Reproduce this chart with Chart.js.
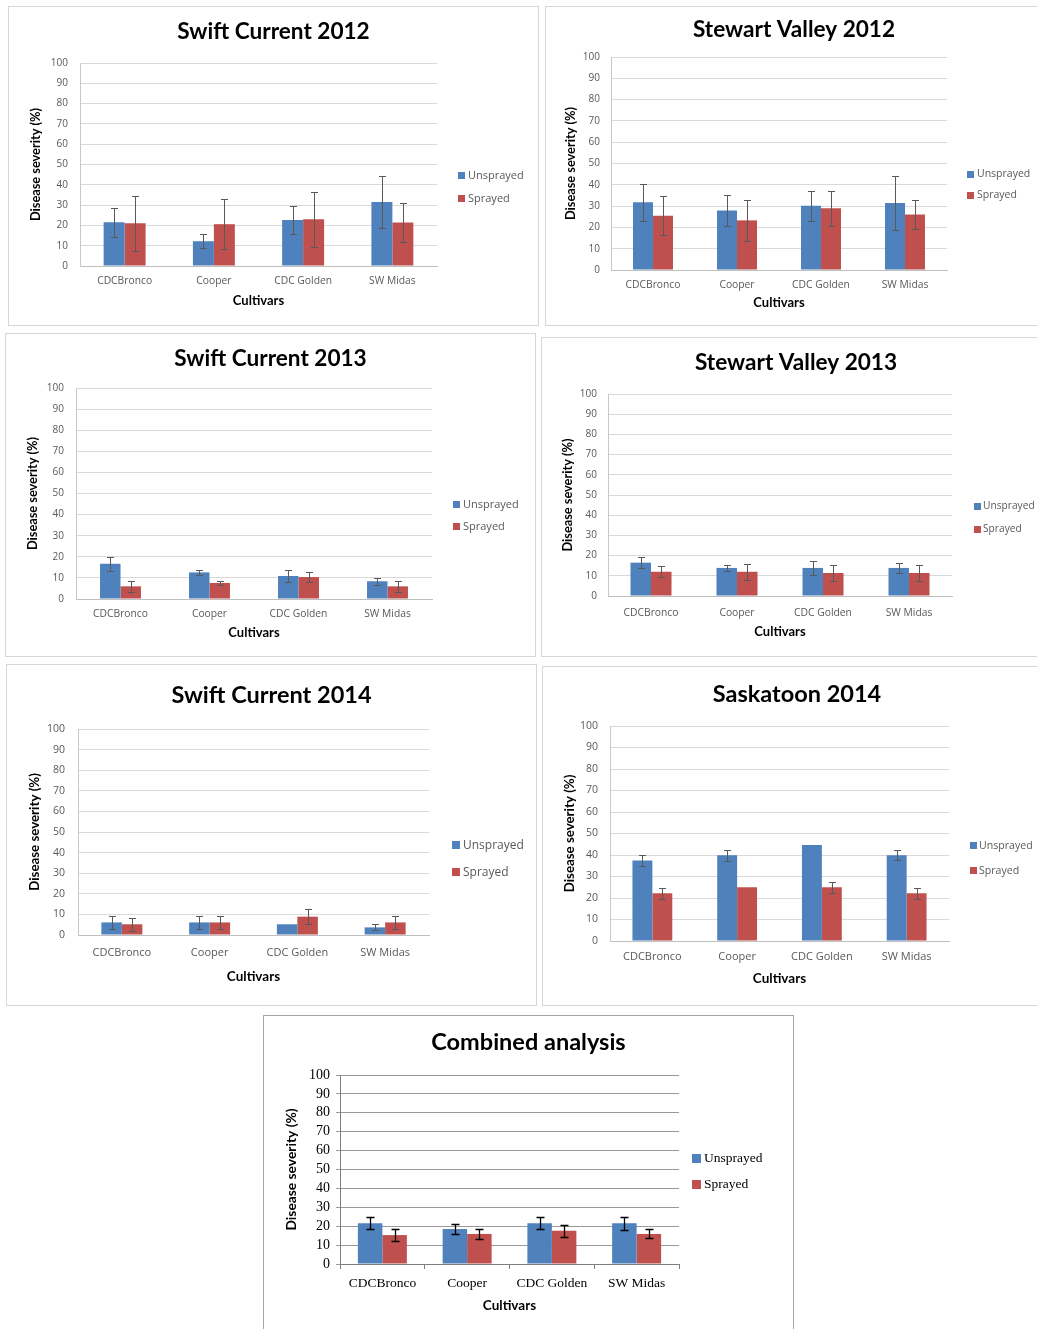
<!DOCTYPE html>
<html>
<head>
<meta charset="utf-8">
<script src="https://cdn.jsdelivr.net/npm/chart.js@4.4.0/dist/chart.umd.min.js"></script>
<style>
  html, body { margin: 0; padding: 0; background: #fff; }
  body { width: 1037px; height: 1329px; overflow: hidden; position: relative; }
  .panel { position: absolute; border: 1px solid #d6d6d6; background: #fff; }
  .panel canvas { display: block; }
  #p7 { border-color: #a6a6a6; }
</style>
</head>
<body>
<div class="panel" id="p1"><canvas></canvas></div>
<div class="panel" id="p2"><canvas></canvas></div>
<div class="panel" id="p3"><canvas></canvas></div>
<div class="panel" id="p4"><canvas></canvas></div>
<div class="panel" id="p5"><canvas></canvas></div>
<div class="panel" id="p6"><canvas></canvas></div>
<div class="panel" id="p7"><canvas></canvas></div>
<script>
// cultivars on the x axis
const cultivars = ['CDCBronco', 'Cooper', 'CDC Golden', 'SW Midas'];
const seriesNames = ['Unsprayed', 'Sprayed'];

// Swift Current 2012
const sc12Unsprayed = [21.5, 12.2, 22.6, 31.5];
const sc12UnsprayedErr = [7.2, 3.5, 7, 12.6];
const sc12Sprayed = [21, 20.6, 23, 21.4];
const sc12SprayedErr = [13.5, 12.4, 13.6, 9.7];

// Stewart Valley 2012
const sv12Unsprayed = [31.8, 27.9, 30.2, 31.5];
const sv12UnsprayedErr = [8.8, 7.4, 7.1, 12.7];
const sv12Sprayed = [25.5, 23.3, 29, 26];
const sv12SprayedErr = [9.3, 9.7, 8.2, 6.9];

// Swift Current 2013
const sc13Unsprayed = [16.7, 12.6, 10.9, 8.4];
const sc13UnsprayedErr = [3.2, 1.1, 3, 1.7];
const sc13Sprayed = [6, 7.6, 10.4, 6];
const sc13SprayedErr = [2.5, 1, 2.4, 2.5];

// Stewart Valley 2013
const sv13Unsprayed = [16.5, 13.9, 13.9, 13.9];
const sv13UnsprayedErr = [2.6, 1.3, 3.5, 2.3];
const sv13Sprayed = [12, 12, 11.4, 11.4];
const sv13SprayedErr = [2.8, 4, 3.8, 3.8];

// Swift Current 2014
const sc14Unsprayed = [6.1, 6.1, 5.2, 3.7];
const sc14UnsprayedErr = [3, 3, 0, 1.5];
const sc14Sprayed = [5.2, 6.1, 8.9, 6.1];
const sc14SprayedErr = [3.1, 3, 3.7, 3];

// Saskatoon 2014
const sk14Unsprayed = [37.4, 39.9, 44.7, 39.9];
const sk14UnsprayedErr = [2.4, 2.6, 0, 2.3];
const sk14Sprayed = [22.2, 25, 25, 22.2];
const sk14SprayedErr = [2.5, 0, 2.6, 2.5];

// Combined analysis
const combUnsprayed = [21.5, 18.5, 21.5, 21.5];
const combUnsprayedErr = [3.2, 2.8, 3.2, 3.5];
const combSprayed = [15.3, 15.9, 17.6, 15.9];
const combSprayedErr = [3.1, 2.7, 3.1, 2.4];

const blue = '#4f81bd';
const red = '#c0504d';

// error bars drawn from the dataset's errors array through the y scale
const errorBars = {
  id: 'errorBars',
  afterDatasetsDraw(chart, args, opts) {
    const ctx = chart.ctx;
    const y = chart.scales.y;
    ctx.save();
    ctx.strokeStyle = opts.color;
    ctx.lineWidth = opts.width;
    chart.data.datasets.forEach((ds, i) => {
      chart.getDatasetMeta(i).data.forEach((bar, j) => {
        const e = ds.errors[j];
        if (!e) return;
        const x = Math.round(bar.x) + 0.5;
        const t = Math.round(y.getPixelForValue(ds.data[j] + e)) + 0.5;
        const b = Math.round(y.getPixelForValue(ds.data[j] - e)) + 0.5;
        ctx.beginPath();
        ctx.moveTo(x, t); ctx.lineTo(x, b);
        ctx.moveTo(x - opts.cap, t); ctx.lineTo(x + opts.cap, t);
        ctx.moveTo(x - opts.cap, b); ctx.lineTo(x + opts.cap, b);
        ctx.stroke();
      });
    });
    ctx.restore();
  }
};

// legend as a layout box on the right, so the title stays centred on the whole chart
function sideLegend(o) {
  return {
    id: 'sideLegend',
    beforeInit(chart) {
      const box = {
        position: 'right', weight: 1000, fullSize: false, options: {},
        left: 0, top: 0, right: 0, bottom: 0, width: 0, height: 0,
        isHorizontal() { return false; },
        update(maxWidth, maxHeight) { this.width = o.width; this.height = maxHeight; },
        draw() {
          const ctx = chart.ctx;
          ctx.save();
          ctx.font = o.font;
          ctx.textBaseline = 'middle';
          ctx.textAlign = 'left';
          chart.data.datasets.forEach((ds, i) => {
            const yc = o.ys[i];
            ctx.fillStyle = ds.backgroundColor;
            ctx.fillRect(Math.round(this.left + o.dx), Math.round(yc - o.size / 2), o.size, o.size);
            ctx.fillStyle = o.color;
            ctx.fillText(ds.label, this.left + o.dx + o.size + o.gap, yc + 0.5);
          });
          ctx.restore();
        }
      };
      Chart.layouts.addBox(chart, box);
    }
  };
}

function makeChart(p) {
  const [bx, by, bw, bh] = p.box;
  const div = document.getElementById(p.id);
  const cw = bw - 2, ch = bh - 2;
  div.style.left = bx + 'px';
  div.style.top = by + 'px';
  div.style.width = cw + 'px';
  div.style.height = ch + 'px';
  const canvas = div.querySelector('canvas');
  canvas.width = cw;
  canvas.height = ch;

  const ox = bx + 1, oy = by + 1;
  const [pl, pt, pr, pb] = p.plot;
  const serif = !!p.combined;
  const tickFamily = serif ? '"Liberation Serif", serif' : '"Open Sans", sans-serif';
  const tickColor = serif ? '#000' : '#595959';
  const tlh = p.titleSize * 1.2;
  const alh = p.axisTitleSize * 1.2;
  const xTick = serif ? 5 : 0;
  const yTick = serif ? 4 : 0;
  const xh = p.xTitleY + alh / 2 + 2 - pb;

  new Chart(canvas, {
    type: 'bar',
    data: {
      labels: cultivars,
      datasets: [
        { label: seriesNames[0], data: p.u, errors: p.ue, backgroundColor: blue, borderWidth: 0 },
        { label: seriesNames[1], data: p.s, errors: p.se, backgroundColor: red, borderWidth: 0 }
      ]
    },
    options: {
      responsive: false,
      animation: false,
      devicePixelRatio: 1,
      events: [],
      layout: { padding: { top: 0, left: 0, right: 0, bottom: ch - (pb - oy) - xh } },
      datasets: { bar: { categoryPercentage: p.catPct, barPercentage: 1 } },
      plugins: {
        legend: { display: false },
        tooltip: { enabled: false },
        title: {
          display: true,
          text: p.title,
          color: '#000',
          font: { family: 'Lato', weight: 'bold', size: p.titleSize, lineHeight: 1.2 },
          padding: { top: p.titleY - oy - tlh / 2, bottom: pt - p.titleY - tlh / 2 }
        },
        errorBars: { color: serif ? '#000' : '#595959', width: serif ? 1.3 : 1, cap: serif ? 4 : 3.5 }
      },
      scales: {
        x: {
          grid: { display: serif, drawOnChartArea: false, drawTicks: serif, tickLength: 5, color: '#7f7f7f' },
          border: { display: true, color: serif ? '#7f7f7f' : '#bfbfbf' },
          ticks: {
            color: tickColor,
            font: { family: tickFamily, size: p.labelSize, lineHeight: 1.2 },
            padding: p.xLabelY - pb - 0.6 * p.labelSize - xTick,
            autoSkip: false, maxRotation: 0
          },
          title: {
            display: true, text: 'Cultivars', color: '#000',
            font: { family: 'Lato', weight: 'bold', size: p.xTitleSize, lineHeight: 1.2 },
            padding: { top: 0, bottom: 2 }
          },
          afterFit(s) { s.height = xh; }
        },
        y: {
          min: 0, max: 100,
          ticks: {
            stepSize: 10, autoSkip: false, color: tickColor,
            font: { family: tickFamily, size: p.tickSize },
            padding: pl - p.tickRight - yTick
          },
          grid: { color: serif ? '#9a9a9a' : '#d9d9d9', drawTicks: serif, tickLength: 4 },
          border: { display: true, color: serif ? '#7f7f7f' : '#c8c8c8' },
          title: {
            display: true, text: 'Disease severity (%)', color: '#000',
            font: { family: 'Lato', weight: 'bold', size: p.axisTitleSize, lineHeight: 1.2 },
            padding: { top: p.yTitleX - ox - alh / 2, bottom: 0 }
          },
          afterFit(s) { s.width = pl - ox; }
        }
      }
    },
    plugins: [errorBars, sideLegend({
      width: cw - (pr - ox),
      dx: p.legendX - pr,
      ys: p.legendY.map(v => v - oy),
      size: p.legendBox,
      gap: p.legendGap || 3,
      font: p.legendSize + 'px ' + tickFamily,
      color: serif ? '#000' : '#595959'
    })]
  });
}

const small = { titleSize: 22.6, tickSize: 10, labelSize: 10.3, axisTitleSize: 12.8, xTitleSize: 13, legendSize: 11, legendBox: 7 };
const large = { titleSize: 23.5, tickSize: 10.5, labelSize: 11, axisTitleSize: 13.3, xTitleSize: 13.5, legendSize: 12, legendBox: 8 };

makeChart(Object.assign({}, small, {
  id: 'p1', box: [8, 6, 531, 320], title: 'Swift Current 2012', titleY: 32,
  plot: [80, 63, 437, 266], tickRight: 68, xLabelY: 281, xTitleY: 301, yTitleX: 36,
  legendX: 458, legendY: [175, 198], catPct: 0.47,
  u: sc12Unsprayed, ue: sc12UnsprayedErr, s: sc12Sprayed, se: sc12SprayedErr
}));

makeChart(Object.assign({}, small, {
  id: 'p2', box: [545, 6, 498, 320], title: 'Stewart Valley 2012', titleY: 30,
  plot: [611, 57, 947, 270], tickRight: 600, xLabelY: 285, xTitleY: 303, yTitleX: 571,
  legendX: 967, legendY: [174, 195], catPct: 0.476, legendSize: 10.5,
  u: sv12Unsprayed, ue: sv12UnsprayedErr, s: sv12Sprayed, se: sv12SprayedErr
}));

makeChart(Object.assign({}, small, {
  id: 'p3', box: [5, 333, 531, 324], title: 'Swift Current 2013', titleY: 359,
  plot: [76, 388, 432, 599], tickRight: 64, xLabelY: 614, xTitleY: 633, yTitleX: 33,
  legendX: 453, legendY: [504, 526], catPct: 0.46,
  u: sc13Unsprayed, ue: sc13UnsprayedErr, s: sc13Sprayed, se: sc13SprayedErr
}));

makeChart(Object.assign({}, small, {
  id: 'p4', box: [541, 337, 510, 320], title: 'Stewart Valley 2013', titleY: 363,
  plot: [608, 394, 952, 596], tickRight: 597, xLabelY: 613, xTitleY: 632, yTitleX: 568,
  legendX: 974, legendY: [506, 529], catPct: 0.477, legendSize: 10.2, legendGap: 2,
  u: sv13Unsprayed, ue: sv13UnsprayedErr, s: sv13Sprayed, se: sv13SprayedErr
}));

makeChart(Object.assign({}, large, {
  id: 'p5', box: [6, 664, 531, 342], title: 'Swift Current 2014', titleY: 695,
  plot: [78, 729, 429, 935], tickRight: 65, xLabelY: 953, xTitleY: 977, yTitleX: 35,
  legendX: 452, legendY: [845, 872], catPct: 0.467,
  u: sc14Unsprayed, ue: sc14UnsprayedErr, s: sc14Sprayed, se: sc14SprayedErr
}));

makeChart(Object.assign({}, large, {
  id: 'p6', box: [542, 666, 510, 340], title: 'Saskatoon 2014', titleY: 694,
  plot: [610, 726, 949, 941], tickRight: 598, xLabelY: 957, xTitleY: 979, yTitleX: 570,
  legendX: 970, legendY: [845, 870], catPct: 0.47, legendSize: 10.6, legendBox: 7, legendGap: 2,
  u: sk14Unsprayed, ue: sk14UnsprayedErr, s: sk14Sprayed, se: sk14SprayedErr
}));

makeChart({
  id: 'p7', box: [263, 1015, 531, 320], title: 'Combined analysis', titleY: 1042, combined: true,
  titleSize: 23.5, tickSize: 14, labelSize: 13.5, axisTitleSize: 13.8, xTitleSize: 13.5, legendSize: 13.5, legendBox: 9,
  plot: [340, 1075, 679, 1264], tickRight: 330, xLabelY: 1283, xTitleY: 1305, yTitleX: 292,
  legendX: 692, legendY: [1158, 1184], catPct: 0.578,
  u: combUnsprayed, ue: combUnsprayedErr, s: combSprayed, se: combSprayedErr
});
</script>
</body>
</html>
